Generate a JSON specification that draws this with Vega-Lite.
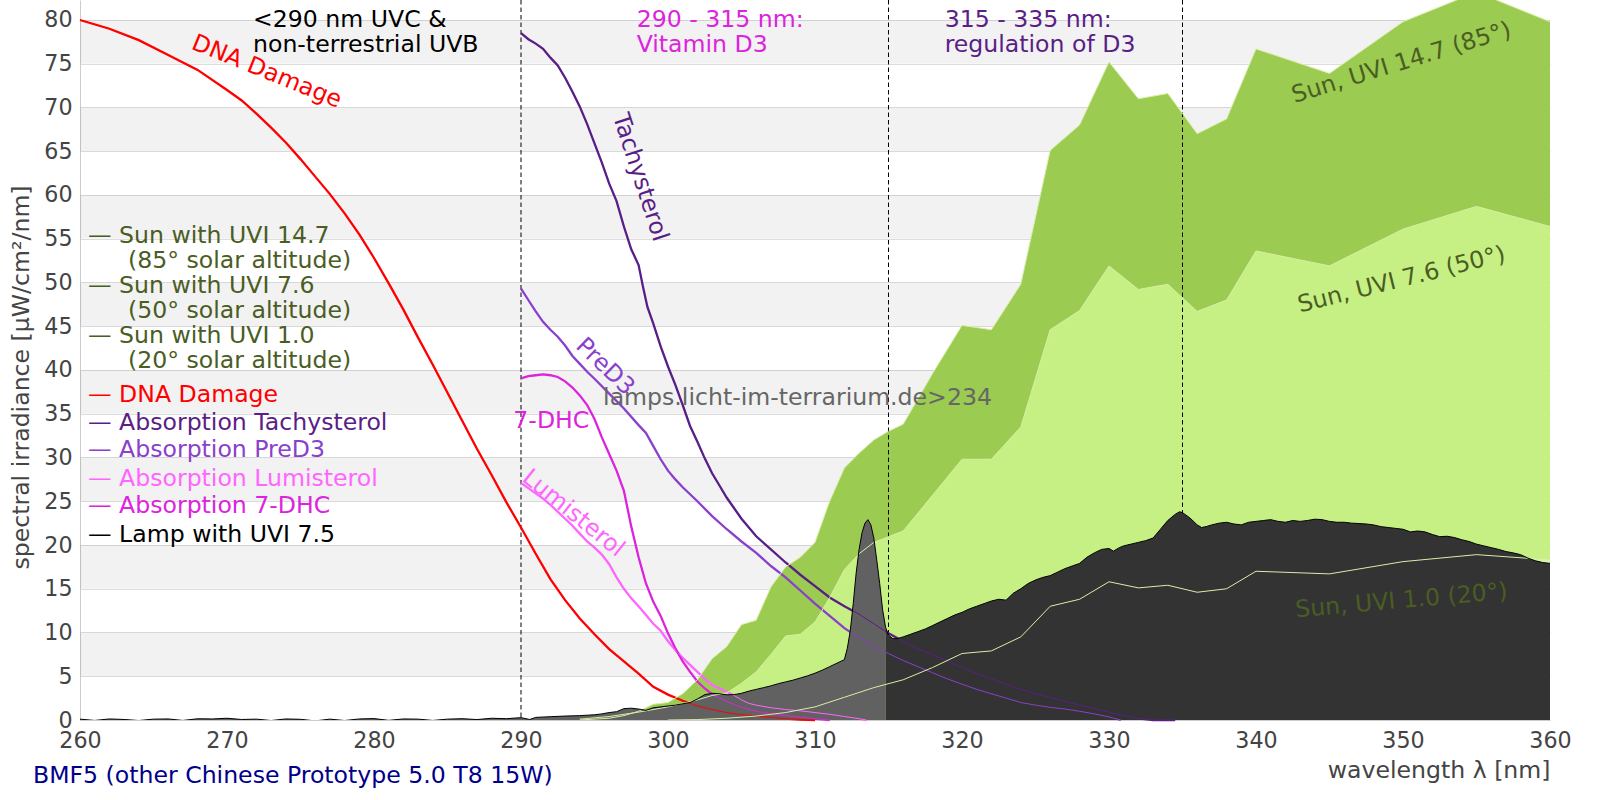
{
"$schema": "https://vega.github.io/schema/vega-lite/v6.json",
"width": 1470, "height": 720,
"autosize": {"type": "none"},
"padding": {"left": 80, "top": 0, "right": 50, "bottom": 80},
"config": {"font": "DejaVu Sans", "view": {"stroke": null}, "text": {"font": "DejaVu Sans"}},
"title": {"text": "BMF5 (other Chinese Prototype 5.0 T8 15W)", "orient": "bottom", "anchor": "start", "frame": "group", "offset": 0, "dx": -47, "dy": 1, "baseline": "alphabetic", "fontSize": 23.6, "fontWeight": "normal", "color": "#00008b", "font": "DejaVu Sans"},
"datasets": {
"bands": [{"v":5,"v2":10},{"v":15,"v2":20},{"v":25,"v2":30},{"v":35,"v2":40},{"v":45,"v2":50},{"v":55,"v2":60},{"v":65,"v2":70},{"v":75,"v2":80}],
"dashes": [{"wl":290},{"wl":315},{"wl":335}],
"sun85": [{"wl":294,"v":0},{"wl":296,"v":0.2},{"wl":297,"v":0.5},{"wl":298,"v":1.0},{"wl":299,"v":1.8},{"wl":300,"v":2.0},{"wl":301,"v":3.0},{"wl":302,"v":4.6},{"wl":303,"v":7.0},{"wl":304,"v":8.4},{"wl":305,"v":10.9},{"wl":306,"v":11.4},{"wl":307,"v":15.2},{"wl":308,"v":17.5},{"wl":309,"v":18.6},{"wl":310,"v":20.3},{"wl":311,"v":25.0},{"wl":312,"v":28.8},{"wl":313,"v":30.5},{"wl":314,"v":32.0},{"wl":315,"v":33.0},{"wl":316,"v":33.8},{"wl":318,"v":39.6},{"wl":320,"v":45.1},{"wl":322,"v":44.6},{"wl":324,"v":49.8},{"wl":326,"v":65.1},{"wl":328,"v":68.0},{"wl":330,"v":75.2},{"wl":332,"v":71.0},{"wl":334,"v":71.6},{"wl":336,"v":67.0},{"wl":338,"v":68.7},{"wl":340,"v":76.7},{"wl":345,"v":73.9},{"wl":350,"v":79.8},{"wl":355,"v":83.2},{"wl":360,"v":79.8}],
"sun50": [{"wl":294,"v":0.1},{"wl":296,"v":0.4},{"wl":298,"v":0.9},{"wl":300,"v":1.5},{"wl":302,"v":2.3},{"wl":303,"v":2.8},{"wl":304,"v":3.1},{"wl":305,"v":4.2},{"wl":306,"v":5.5},{"wl":307,"v":7.5},{"wl":308,"v":9.6},{"wl":309,"v":9.8},{"wl":310,"v":11.2},{"wl":311,"v":14.0},{"wl":312,"v":17.2},{"wl":313,"v":19.0},{"wl":314,"v":20.3},{"wl":316,"v":21.6},{"wl":318,"v":25.7},{"wl":320,"v":29.8},{"wl":322,"v":29.8},{"wl":324,"v":33.5},{"wl":326,"v":44.6},{"wl":328,"v":46.8},{"wl":330,"v":51.9},{"wl":332,"v":49.2},{"wl":334,"v":49.8},{"wl":336,"v":46.7},{"wl":338,"v":48.0},{"wl":340,"v":53.6},{"wl":345,"v":51.9},{"wl":350,"v":56.1},{"wl":355,"v":58.7},{"wl":360,"v":56.4}],
"sun20": [{"wl":300,"v":0},{"wl":302,"v":0.05},{"wl":304,"v":0.2},{"wl":306,"v":0.45},{"wl":308,"v":0.85},{"wl":310,"v":1.5},{"wl":312,"v":2.6},{"wl":314,"v":3.7},{"wl":316,"v":4.6},{"wl":318,"v":6.0},{"wl":320,"v":7.6},{"wl":322,"v":7.9},{"wl":324,"v":9.5},{"wl":326,"v":13.0},{"wl":328,"v":13.8},{"wl":330,"v":15.8},{"wl":332,"v":15.1},{"wl":334,"v":15.4},{"wl":336,"v":14.6},{"wl":338,"v":15.0},{"wl":340,"v":17.0},{"wl":345,"v":16.7},{"wl":350,"v":18.1},{"wl":355,"v":18.9},{"wl":360,"v":18.3}],
"dna": [{"wl":260,"v":80.0},{"wl":262,"v":79.0},{"wl":264,"v":77.7},{"wl":266,"v":76.0},{"wl":268,"v":74.3},{"wl":270,"v":72.0},{"wl":271,"v":70.8},{"wl":272,"v":69.3},{"wl":273,"v":67.7},{"wl":274,"v":66.0},{"wl":275,"v":64.1},{"wl":276,"v":62.1},{"wl":277,"v":60.1},{"wl":278,"v":57.9},{"wl":279,"v":55.5},{"wl":280,"v":52.8},{"wl":281,"v":49.9},{"wl":282,"v":46.9},{"wl":283,"v":43.7},{"wl":284,"v":40.6},{"wl":285,"v":37.4},{"wl":286,"v":34.2},{"wl":287,"v":31.0},{"wl":288,"v":28.0},{"wl":289,"v":24.9},{"wl":290,"v":22.0},{"wl":291,"v":19.0},{"wl":292,"v":16.1},{"wl":293,"v":13.7},{"wl":294,"v":11.6},{"wl":295,"v":9.8},{"wl":296,"v":8.1},{"wl":297,"v":6.7},{"wl":298,"v":5.3},{"wl":299,"v":3.8},{"wl":300,"v":2.9},{"wl":301,"v":2.2},{"wl":302,"v":1.6},{"wl":303,"v":1.2},{"wl":304,"v":0.85},{"wl":305,"v":0.6},{"wl":306,"v":0.45},{"wl":307,"v":0.3},{"wl":308,"v":0.15},{"wl":309,"v":0.05},{"wl":310,"v":0}],
"tachy": [{"wl":290,"v":78.5},{"wl":290.5,"v":77.8},{"wl":291,"v":77.3},{"wl":291.5,"v":76.7},{"wl":292,"v":75.7},{"wl":292.5,"v":74.8},{"wl":293,"v":73.4},{"wl":293.5,"v":71.8},{"wl":294,"v":70.1},{"wl":294.5,"v":68.1},{"wl":295,"v":65.9},{"wl":295.5,"v":63.7},{"wl":296,"v":61.3},{"wl":296.5,"v":59.3},{"wl":297,"v":56.4},{"wl":297.5,"v":53.8},{"wl":298,"v":52.0},{"wl":298.3,"v":49.5},{"wl":298.6,"v":47.2},{"wl":299,"v":45.3},{"wl":299.5,"v":42.7},{"wl":300,"v":40.4},{"wl":300.5,"v":38.3},{"wl":301,"v":36.0},{"wl":301.5,"v":33.6},{"wl":302,"v":31.8},{"wl":302.5,"v":29.9},{"wl":303,"v":28.2},{"wl":303.5,"v":26.8},{"wl":304,"v":25.4},{"wl":304.5,"v":24.2},{"wl":305,"v":23.0},{"wl":306,"v":21.0},{"wl":307,"v":19.5},{"wl":308,"v":18.0},{"wl":309,"v":16.6},{"wl":310,"v":15.3},{"wl":311,"v":14.0},{"wl":312,"v":13.0},{"wl":313,"v":12.1},{"wl":314,"v":11.0},{"wl":315,"v":9.9},{"wl":316,"v":9.0},{"wl":317,"v":8.1},{"wl":318,"v":7.5},{"wl":319,"v":6.7},{"wl":320,"v":6.0},{"wl":321,"v":5.3},{"wl":322,"v":4.7},{"wl":323,"v":4.1},{"wl":324,"v":3.5},{"wl":325,"v":3.0},{"wl":326,"v":2.6},{"wl":327,"v":2.1},{"wl":328,"v":1.7},{"wl":329,"v":1.3},{"wl":330,"v":0.9},{"wl":331,"v":0.5},{"wl":332,"v":0.2},{"wl":333,"v":0.0},{"wl":334.5,"v":0.0}],
"pred3": [{"wl":290,"v":49.3},{"wl":290.5,"v":48.0},{"wl":291,"v":46.7},{"wl":291.5,"v":45.5},{"wl":292,"v":44.6},{"wl":292.5,"v":43.8},{"wl":293,"v":42.8},{"wl":293.5,"v":41.6},{"wl":294,"v":40.7},{"wl":294.5,"v":39.8},{"wl":295,"v":39.0},{"wl":296,"v":37.3},{"wl":297,"v":35.6},{"wl":298,"v":33.7},{"wl":298.5,"v":32.8},{"wl":299,"v":31.3},{"wl":299.5,"v":29.8},{"wl":300,"v":28.5},{"wl":300.5,"v":27.5},{"wl":301,"v":26.6},{"wl":301.5,"v":25.8},{"wl":302,"v":25.0},{"wl":303,"v":23.3},{"wl":304,"v":21.8},{"wl":305,"v":20.4},{"wl":306,"v":19.1},{"wl":307,"v":17.6},{"wl":308,"v":16.3},{"wl":309,"v":14.8},{"wl":310,"v":13.3},{"wl":311,"v":11.9},{"wl":312,"v":10.5},{"wl":313,"v":9.4},{"wl":314,"v":8.4},{"wl":315,"v":7.6},{"wl":316,"v":6.8},{"wl":317,"v":6.1},{"wl":318,"v":5.4},{"wl":319,"v":4.7},{"wl":320,"v":4.1},{"wl":321,"v":3.5},{"wl":322,"v":3.0},{"wl":323,"v":2.5},{"wl":324,"v":2.0},{"wl":325,"v":1.7},{"wl":326,"v":1.45},{"wl":327,"v":1.25},{"wl":328,"v":1.0},{"wl":329,"v":0.7},{"wl":330,"v":0.35},{"wl":330.8,"v":0}],
"dhc": [{"wl":290,"v":39.05},{"wl":290.5,"v":39.3},{"wl":291,"v":39.4},{"wl":291.5,"v":39.5},{"wl":292,"v":39.4},{"wl":292.5,"v":39.2},{"wl":293,"v":38.7},{"wl":293.5,"v":38.0},{"wl":294,"v":37.1},{"wl":294.5,"v":36.0},{"wl":295,"v":34.4},{"wl":295.5,"v":32.3},{"wl":296,"v":30.4},{"wl":296.5,"v":28.5},{"wl":297,"v":26.2},{"wl":297.5,"v":22.1},{"wl":298,"v":18.6},{"wl":298.5,"v":15.6},{"wl":299,"v":13.5},{"wl":299.5,"v":11.9},{"wl":300,"v":9.9},{"wl":300.5,"v":8.2},{"wl":301,"v":6.7},{"wl":301.5,"v":5.5},{"wl":302,"v":4.4},{"wl":302.5,"v":3.6},{"wl":303,"v":2.95},{"wl":303.5,"v":2.5},{"wl":304,"v":2.1},{"wl":305,"v":1.45},{"wl":306,"v":1.0},{"wl":307,"v":0.7},{"wl":308,"v":0.5},{"wl":309,"v":0.33},{"wl":310,"v":0.15},{"wl":311,"v":0}],
"lumi": [{"wl":290,"v":27.1},{"wl":290.5,"v":26.5},{"wl":291,"v":25.9},{"wl":291.5,"v":25.3},{"wl":292,"v":24.6},{"wl":292.5,"v":23.8},{"wl":293,"v":23.0},{"wl":293.5,"v":22.2},{"wl":294,"v":21.3},{"wl":294.5,"v":20.4},{"wl":295,"v":19.7},{"wl":295.5,"v":18.9},{"wl":296,"v":17.8},{"wl":296.5,"v":16.3},{"wl":297,"v":15.0},{"wl":297.5,"v":13.9},{"wl":298,"v":13.0},{"wl":298.5,"v":12.0},{"wl":299,"v":11.0},{"wl":299.5,"v":10.2},{"wl":300,"v":9.0},{"wl":300.5,"v":8.0},{"wl":301,"v":7.1},{"wl":301.5,"v":6.3},{"wl":302,"v":5.5},{"wl":302.5,"v":4.7},{"wl":303,"v":4.0},{"wl":303.5,"v":3.6},{"wl":304,"v":3.2},{"wl":304.5,"v":2.8},{"wl":305,"v":2.3},{"wl":305.5,"v":1.9},{"wl":306,"v":1.7},{"wl":307,"v":1.4},{"wl":308,"v":1.2},{"wl":309,"v":1.05},{"wl":310,"v":0.85},{"wl":311,"v":0.65},{"wl":312,"v":0.4},{"wl":313,"v":0.15},{"wl":313.5,"v":0}],
"lamp": [{"wl":260,"v":0.1},{"wl":261,"v":-0.05},{"wl":262,"v":0.12},{"wl":263,"v":0.06},{"wl":264,"v":-0.06},{"wl":265,"v":0.1},{"wl":266,"v":0.12},{"wl":267,"v":-0.05},{"wl":268,"v":0.14},{"wl":269,"v":0.12},{"wl":270,"v":0.2},{"wl":271,"v":0.06},{"wl":272,"v":0.1},{"wl":273,"v":-0.06},{"wl":274,"v":0.12},{"wl":275,"v":0.08},{"wl":276,"v":-0.1},{"wl":277,"v":0.1},{"wl":278,"v":-0.06},{"wl":279,"v":0.12},{"wl":280,"v":0.16},{"wl":281,"v":-0.04},{"wl":282,"v":0.12},{"wl":283,"v":0.1},{"wl":284,"v":-0.05},{"wl":285,"v":0.1},{"wl":286,"v":0.15},{"wl":287,"v":0.05},{"wl":288,"v":0.2},{"wl":289,"v":0.15},{"wl":290,"v":0.27},{"wl":290.6,"v":0.06},{"wl":291,"v":0.3},{"wl":292,"v":0.38},{"wl":293,"v":0.45},{"wl":294,"v":0.5},{"wl":295,"v":0.6},{"wl":295.5,"v":0.7},{"wl":296,"v":0.85},{"wl":296.5,"v":0.95},{"wl":297,"v":1.3},{"wl":297.5,"v":1.35},{"wl":298,"v":1.25},{"wl":298.5,"v":1.1},{"wl":299,"v":1.4},{"wl":299.5,"v":1.5},{"wl":300,"v":1.6},{"wl":300.5,"v":1.7},{"wl":301,"v":1.85},{"wl":301.5,"v":2.0},{"wl":302,"v":2.4},{"wl":302.5,"v":2.9},{"wl":303,"v":3.05},{"wl":303.5,"v":3.0},{"wl":304,"v":2.88},{"wl":304.5,"v":2.9},{"wl":305,"v":3.05},{"wl":305.5,"v":3.3},{"wl":306,"v":3.5},{"wl":306.5,"v":3.7},{"wl":307,"v":3.9},{"wl":307.5,"v":4.15},{"wl":308,"v":4.35},{"wl":308.5,"v":4.55},{"wl":309,"v":4.8},{"wl":309.5,"v":5.05},{"wl":310,"v":5.35},{"wl":310.5,"v":5.7},{"wl":311,"v":6.1},{"wl":311.5,"v":6.5},{"wl":312,"v":6.9},{"wl":312.2,"v":8.2},{"wl":312.4,"v":10.2},{"wl":312.6,"v":13.3},{"wl":312.8,"v":16.8},{"wl":313,"v":19.5},{"wl":313.2,"v":21.4},{"wl":313.4,"v":22.5},{"wl":313.6,"v":22.9},{"wl":313.8,"v":22.3},{"wl":314,"v":20.8},{"wl":314.2,"v":18.3},{"wl":314.4,"v":15.6},{"wl":314.6,"v":12.6},{"wl":314.8,"v":10.6},{"wl":315,"v":9.7},{"wl":315.3,"v":9.3},{"wl":315.6,"v":9.3},{"wl":316,"v":9.5},{"wl":316.5,"v":9.8},{"wl":317,"v":10.1},{"wl":317.5,"v":10.4},{"wl":318,"v":10.8},{"wl":318.5,"v":11.2},{"wl":319,"v":11.6},{"wl":319.5,"v":12.0},{"wl":320,"v":12.3},{"wl":320.5,"v":12.7},{"wl":321,"v":13.0},{"wl":321.5,"v":13.3},{"wl":322,"v":13.6},{"wl":322.5,"v":13.8},{"wl":323,"v":13.7},{"wl":323.5,"v":14.5},{"wl":324,"v":15.0},{"wl":324.5,"v":15.6},{"wl":325,"v":16.0},{"wl":325.5,"v":16.3},{"wl":326,"v":16.5},{"wl":326.5,"v":16.9},{"wl":327,"v":17.3},{"wl":327.5,"v":17.6},{"wl":328,"v":17.9},{"wl":328.5,"v":18.6},{"wl":329,"v":19.1},{"wl":329.5,"v":19.5},{"wl":330,"v":19.6},{"wl":330.3,"v":19.3},{"wl":330.7,"v":19.7},{"wl":331,"v":19.9},{"wl":331.5,"v":20.1},{"wl":332,"v":20.3},{"wl":332.5,"v":20.5},{"wl":333,"v":20.8},{"wl":333.5,"v":21.8},{"wl":334,"v":22.8},{"wl":334.5,"v":23.5},{"wl":334.8,"v":23.8},{"wl":335,"v":23.7},{"wl":335.5,"v":23.1},{"wl":336,"v":22.3},{"wl":336.3,"v":22.0},{"wl":336.6,"v":22.1},{"wl":337,"v":22.3},{"wl":337.5,"v":22.5},{"wl":338,"v":22.6},{"wl":338.5,"v":22.4},{"wl":339,"v":22.3},{"wl":339.5,"v":22.6},{"wl":340,"v":22.7},{"wl":340.5,"v":22.8},{"wl":341,"v":22.9},{"wl":341.5,"v":22.7},{"wl":342,"v":22.6},{"wl":342.5,"v":22.8},{"wl":343,"v":22.7},{"wl":343.5,"v":22.8},{"wl":344,"v":22.95},{"wl":344.5,"v":22.9},{"wl":345,"v":22.7},{"wl":345.5,"v":22.6},{"wl":346,"v":22.6},{"wl":346.5,"v":22.5},{"wl":347,"v":22.45},{"wl":347.5,"v":22.4},{"wl":348,"v":22.3},{"wl":348.5,"v":22.1},{"wl":349,"v":22.0},{"wl":349.5,"v":21.9},{"wl":350,"v":21.8},{"wl":350.5,"v":21.5},{"wl":351,"v":21.6},{"wl":351.5,"v":21.5},{"wl":352,"v":21.2},{"wl":352.5,"v":20.95},{"wl":353,"v":21.0},{"wl":353.5,"v":20.85},{"wl":354,"v":20.6},{"wl":354.5,"v":20.4},{"wl":355,"v":20.1},{"wl":355.5,"v":19.9},{"wl":356,"v":19.7},{"wl":356.5,"v":19.5},{"wl":357,"v":19.25},{"wl":357.5,"v":19.1},{"wl":358,"v":18.9},{"wl":358.5,"v":18.5},{"wl":359,"v":18.2},{"wl":359.5,"v":18.0},{"wl":360,"v":17.9}],
"legend": [
{"wl":260.544,"v":54.51,"t":"— Sun with UVI 14.7","s":"sun"},
{"wl":263.265,"v":51.66,"t":"(85° solar altitude)","s":"sun"},
{"wl":260.544,"v":48.83,"t":"— Sun with UVI 7.6","s":"sun"},
{"wl":263.265,"v":45.94,"t":"(50° solar altitude)","s":"sun"},
{"wl":260.544,"v":43.09,"t":"— Sun with UVI 1.0","s":"sun"},
{"wl":263.265,"v":40.19,"t":"(20° solar altitude)","s":"sun"},
{"wl":260.544,"v":36.38,"t":"— DNA Damage","s":"dna"},
{"wl":260.544,"v":33.14,"t":"— Absorption Tachysterol","s":"tachy"},
{"wl":260.544,"v":30.02,"t":"— Absorption PreD3","s":"pred3"},
{"wl":260.544,"v":26.74,"t":"— Absorption Lumisterol","s":"lumi"},
{"wl":260.544,"v":23.62,"t":"— Absorption 7-DHC","s":"dhc"},
{"wl":260.544,"v":20.38,"t":"— Lamp with UVI 7.5","s":"lamp"}
]
},
"encoding": {
"x": {"field": "wl", "type": "quantitative", "scale": {"domain": [260, 360], "nice": false, "zero": false},
 "axis": {"values": [260,270,280,290,300,310,320,330,340,350,360], "format": "d", "ticks": false, "grid": false, "labelPadding": 9, "labelFontSize": 22.2, "labelColor": "#444444", "labelFlush": false, "labelOverlap": false, "domainColor": "#cccccc", "title": "wavelength λ [nm]", "titleFontSize": 23.6, "titleFontWeight": "normal", "titleColor": "#444444", "titleAnchor": "end", "titlePadding": 7}},
"y": {"field": "v", "type": "quantitative", "scale": {"domain": [0, 82.2857], "nice": false, "zero": false},
 "axis": {"values": [0,5,10,15,20,25,30,35,40,45,50,55,60,65,70,75,80], "format": "d", "ticks": false, "grid": true, "gridColor": "#dddddd", "labelPadding": 8, "labelFontSize": 22.2, "labelColor": "#444444", "labelFlush": false, "labelOverlap": false, "domainColor": "#cccccc", "title": "spectral irradiance [µW/cm²/nm]", "titleFontSize": 23.6, "titleFontWeight": "normal", "titleColor": "#444444", "titlePadding": 10, "titleY": 377}}
},
"layer": [
{"data": {"name": "bands"}, "mark": {"type": "rect", "fill": "#000000", "opacity": 0.05}, "encoding": {"x": {"value": 0}, "x2": {"value": "width"}, "y2": {"field": "v2"}}},
{"data": {"name": "sun85"}, "mark": {"type": "area", "color": "#9bcb50", "clip": true}, "encoding": {}},
{"data": {"name": "sun50"}, "mark": {"type": "area", "color": "#c6f083", "clip": true}, "encoding": {}},
{"data": {"name": "sun20"}, "mark": {"type": "area", "color": "#d8f2ae", "clip": true}, "encoding": {}},
{"data": {"name": "dashes"}, "mark": {"type": "rule", "stroke": "#000000", "strokeWidth": 1, "strokeDash": [4.5, 3]}, "encoding": {"y": {"value": 0}, "y2": {"value": "height"}}},
{"data": {"name": "dna"}, "mark": {"type": "line", "stroke": "#ff0000", "strokeWidth": 2.3}, "encoding": {}},
{"data": {"name": "tachy"}, "mark": {"type": "line", "stroke": "#5a1e87", "strokeWidth": 2.3}, "encoding": {}},
{"data": {"name": "pred3"}, "mark": {"type": "line", "stroke": "#8a40cc", "strokeWidth": 2.3}, "encoding": {}},
{"data": {"name": "lumi"}, "mark": {"type": "line", "stroke": "#ff66ff", "strokeWidth": 2.3}, "encoding": {}},
{"data": {"name": "dhc"}, "mark": {"type": "line", "stroke": "#dc24dc", "strokeWidth": 2.3}, "encoding": {}},
{"data": {"name": "lamp"}, "transform": [{"filter": "datum.wl <= 314.8"}], "mark": {"type": "area", "color": "#616161", "clip": true}, "encoding": {}},
{"data": {"name": "lamp"}, "transform": [{"filter": "datum.wl >= 314.8"}], "mark": {"type": "area", "color": "#333333", "clip": true}, "encoding": {}},
{"data": {"name": "dna"}, "mark": {"type": "line", "stroke": "#ff0000", "strokeWidth": 1}, "encoding": {}},
{"data": {"name": "tachy"}, "mark": {"type": "line", "stroke": "#5a1e87", "strokeWidth": 1}, "encoding": {}},
{"data": {"name": "pred3"}, "mark": {"type": "line", "stroke": "#8a40cc", "strokeWidth": 1}, "encoding": {}},
{"data": {"name": "lumi"}, "mark": {"type": "line", "stroke": "#ff66ff", "strokeWidth": 1}, "encoding": {}},
{"data": {"name": "dhc"}, "mark": {"type": "line", "stroke": "#dc24dc", "strokeWidth": 1}, "encoding": {}},
{"data": {"name": "sun85"}, "mark": {"type": "line", "stroke": "#d8eea8", "strokeWidth": 1, "clip": true}, "encoding": {}},
{"data": {"name": "sun50"}, "mark": {"type": "line", "stroke": "#d8eea8", "strokeWidth": 1, "clip": true}, "encoding": {}},
{"data": {"name": "sun20"}, "mark": {"type": "line", "stroke": "#d8eea8", "strokeWidth": 1, "clip": true}, "encoding": {}},
{"data": {"name": "lamp"}, "mark": {"type": "line", "stroke": "#000000", "strokeWidth": 1, "clip": true}, "encoding": {}},
{"data": {"values": [{"wl": 271.77, "v": 79.23, "t": "<290 nm UVC &\nnon-terrestrial UVB"}]}, "mark": {"type": "text", "align": "left", "baseline": "alphabetic", "fontSize": 23.6, "lineBreak": "\n", "lineHeight": 25, "color": "#000000"}, "encoding": {"text": {"field": "t", "type": "nominal"}}},
{"data": {"values": [{"wl": 297.87, "v": 79.23, "t": "290 - 315 nm:\nVitamin D3"}]}, "mark": {"type": "text", "align": "left", "baseline": "alphabetic", "fontSize": 23.6, "lineBreak": "\n", "lineHeight": 25, "color": "#dc24dc"}, "encoding": {"text": {"field": "t", "type": "nominal"}}},
{"data": {"values": [{"wl": 318.82, "v": 79.23, "t": "315 - 335 nm:\nregulation of D3"}]}, "mark": {"type": "text", "align": "left", "baseline": "alphabetic", "fontSize": 23.6, "lineBreak": "\n", "lineHeight": 25, "color": "#5a1e87"}, "encoding": {"text": {"field": "t", "type": "nominal"}}},
{"data": {"values": [{"wl": 272.7, "v": 74.09, "t": "DNA Damage"}]}, "mark": {"type": "text", "align": "center", "baseline": "middle", "fontSize": 23.6, "angle": 22, "color": "#ff0000"}, "encoding": {"text": {"field": "t", "type": "nominal"}}},
{"data": {"values": [{"wl": 298.1, "v": 62.02, "t": "Tachysterol"}]}, "mark": {"type": "text", "align": "center", "baseline": "middle", "fontSize": 23.6, "angle": 72, "color": "#5a1e87"}, "encoding": {"text": {"field": "t", "type": "nominal"}}},
{"data": {"values": [{"wl": 295.71, "v": 40.38, "t": "PreD3"}]}, "mark": {"type": "text", "align": "center", "baseline": "middle", "fontSize": 23.6, "angle": 44, "color": "#8a40cc"}, "encoding": {"text": {"field": "t", "type": "nominal"}}},
{"data": {"values": [{"wl": 289.48, "v": 33.4, "t": "7-DHC"}]}, "mark": {"type": "text", "align": "left", "baseline": "alphabetic", "fontSize": 23.6, "color": "#dc24dc"}, "encoding": {"text": {"field": "t", "type": "nominal"}}},
{"data": {"values": [{"wl": 293.56, "v": 23.62, "t": "Lumisterol"}]}, "mark": {"type": "text", "align": "center", "baseline": "middle", "fontSize": 23.6, "angle": 39, "color": "#ff66ff"}, "encoding": {"text": {"field": "t", "type": "nominal"}}},
{"data": {"values": [{"wl": 349.9, "v": 75.1, "t": "Sun, UVI 14.7 (85°)"}]}, "mark": {"type": "text", "align": "center", "baseline": "middle", "fontSize": 23.6, "angle": -17, "color": "#4a5d23"}, "encoding": {"text": {"field": "t", "type": "nominal"}}},
{"data": {"values": [{"wl": 349.9, "v": 50.3, "t": "Sun, UVI 7.6 (50°)"}]}, "mark": {"type": "text", "align": "center", "baseline": "middle", "fontSize": 23.6, "angle": -14, "color": "#4a5d23"}, "encoding": {"text": {"field": "t", "type": "nominal"}}},
{"data": {"values": [{"wl": 349.9, "v": 13.6, "t": "Sun, UVI 1.0 (20°)"}]}, "mark": {"type": "text", "align": "center", "baseline": "middle", "fontSize": 23.6, "angle": -5, "color": "#4a5d23"}, "encoding": {"text": {"field": "t", "type": "nominal"}}},
{"data": {"values": [{"wl": 308.81, "v": 36.0, "t": "lamps.licht-im-terrarium.de>234"}]}, "mark": {"type": "text", "align": "center", "baseline": "alphabetic", "fontSize": 23.6, "color": "#666666"}, "encoding": {"text": {"field": "t", "type": "nominal"}}},
{"data": {"name": "legend"}, "mark": {"type": "text", "align": "left", "baseline": "alphabetic", "fontSize": 23.6}, "encoding": {"text": {"field": "t", "type": "nominal"}, "color": {"field": "s", "type": "nominal", "scale": {"domain": ["sun","dna","tachy","pred3","lumi","dhc","lamp"], "range": ["#4a5d23","#ff0000","#5a1e87","#8a40cc","#ff66ff","#dc24dc","#000000"]}, "legend": null}}}
]
}
